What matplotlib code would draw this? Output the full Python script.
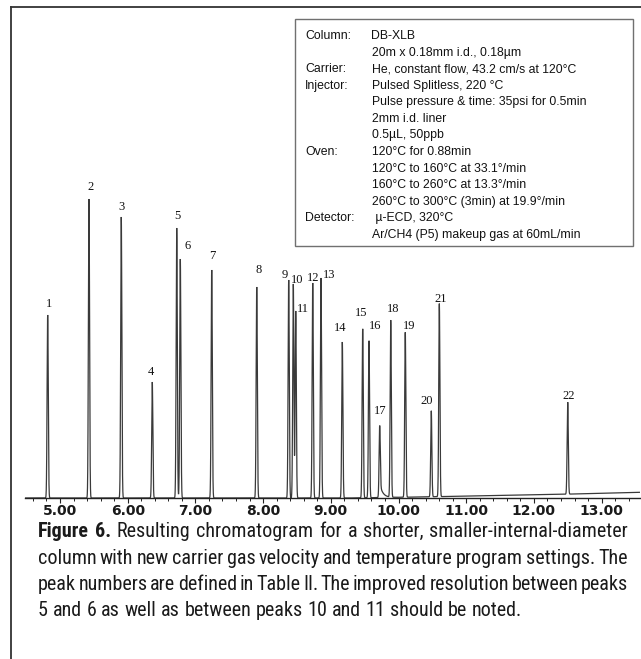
import numpy as np
import matplotlib
matplotlib.use("Agg")
import matplotlib.pyplot as plt
from matplotlib import font_manager as fm
from matplotlib.patches import Rectangle
from matplotlib.lines import Line2D
from matplotlib.ticker import MultipleLocator

# ---- chromatogram data -------------------------------------------------
peak_ids = ["1", "2", "3", "4", "5", "6", "7", "8", "9", "10", "11",
            "12", "13", "14", "15", "16", "17", "18", "19", "20", "21", "22"]
retention_times = [4.818, 5.428, 5.905, 6.363, 6.724, 6.777, 7.241, 7.906,
                   8.378, 8.446, 8.482, 8.733, 8.855, 9.170, 9.471, 9.564,
                   9.722, 9.885, 10.100, 10.484, 10.603, 12.499]
peak_heights = [183, 299, 281, 116, 270, 239, 228, 211, 218, 214, 187,
                215, 220, 156, 169, 157, 72, 177, 165, 86, 193, 92]

# slow baseline drift late in the run
drift_times = [4.48, 9.30, 10.30, 12.40, 13.57]
drift_levels = [0.0, 0.0, 1.0, 3.7, 5.7]

# tailing on peak 17
tail_peak = "17"
tail_height = 14.0
tail_decay = 0.045

tick_values = [5, 6, 7, 8, 9, 10, 11, 12, 13]
tick_labels = ["5.00", "6.00", "7.00", "8.00", "9.00", "10.00", "11.00",
               "12.00", "13.00"]

info_rows = [
    ("Column:", "DB-XLB"),
    ("", "20m x 0.18mm i.d., 0.18\u00b5m"),
    ("Carrier:", "He, constant flow, 43.2 cm/s at 120\u00b0C"),
    ("Injector:", "Pulsed Splitless, 220 \u00b0C"),
    ("", "Pulse pressure & time: 35psi for 0.5min"),
    ("", "2mm i.d. liner"),
    ("", "0.5\u00b5L, 50ppb"),
    ("Oven:", "120\u00b0C for 0.88min"),
    ("", "120\u00b0C to 160\u00b0C at 33.1\u00b0/min"),
    ("", "160\u00b0C to 260\u00b0C at 13.3\u00b0/min"),
    ("", "260\u00b0C to 300\u00b0C (3min) at 19.9\u00b0/min"),
    ("Detector:", " \u00b5-ECD, 320\u00b0C"),
    ("", "Ar/CH4 (P5) makeup gas at 60mL/min"),
]

caption_lines = [
    "Figure 6. Resulting chromatogram for a shorter, smaller-internal-diameter",
    "column with new carrier gas velocity and temperature program settings. The",
    "peak numbers are defined in Table II. The improved resolution between peaks",
    "5 and 6 as well as between peaks 10 and 11 should be noted.",
]

# label placement (pixels right / up from each peak apex)
label_offsets = [(1, 12), (2, 13), (0, 11), (-1, 11), (1, 13), (7, 14),
                 (1, 15), (2, 18), (-4, 6), (4, 5), (7, 3), (0, 6), (8, 4),
                 (-2, 15), (-2, 17), (6, 16), (1, 16), (2, 13), (4, 8),
                 (-5, 12), (1, 7), (1, 11)]

W, H = 641, 659
fig = plt.figure(figsize=(W / 100, H / 100), dpi=100)
fig.patch.set_facecolor("white")


def fx(px):
    return px / W


def fy(py):
    return 1 - py / H


# ---- signal ------------------------------------------------------------
t = np.linspace(4.483, 13.567, 30000)
sigma = 0.0085
signal = np.interp(t, drift_times, drift_levels)
for pid, rt, h in zip(peak_ids, retention_times, peak_heights):
    signal += h * np.exp(-0.5 * ((t - rt) / sigma) ** 2)
    if pid == tail_peak:
        after = np.clip(t - rt, 0, None)
        ramp = 1 - np.exp(-0.5 * ((t - rt) / sigma) ** 2)
        signal += np.where(t > rt, tail_height * np.exp(-after / tail_decay) * ramp, 0)

ax = fig.add_axes([fx(25), 161 / H, 615 / W, 478 / H])
ax.plot(t, signal, color="#3a3a3a", lw=0.9, solid_joinstyle="miter")
ax.set_xlim(4.483, 13.567)
ax.set_ylim(0, 478)
for s in ("left", "right", "top"):
    ax.spines[s].set_visible(False)
ax.spines["bottom"].set_color("#222222")
ax.spines["bottom"].set_linewidth(1.0)
ax.set_yticks([])
ax.set_xticks(tick_values)
ax.set_xticklabels(tick_labels, family="DejaVu Sans", fontsize=10,
                   weight="bold", color="#1a1a1a")
ax.xaxis.set_minor_locator(MultipleLocator(0.2))
ax.tick_params(axis="x", which="major", direction="out", length=3.6,
               width=0.8, pad=1.0, color="#222222")
ax.tick_params(axis="x", which="minor", direction="out", length=2.2,
               width=0.7, color="#222222")
ax.patch.set_alpha(0)

for pid, rt, h, (dx, dy) in zip(peak_ids, retention_times, peak_heights,
                                label_offsets):
    ax.annotate(pid, xy=(rt, h), xytext=(dx * 0.72, (dy - 4) * 0.72),
                textcoords="offset points", ha="center", va="baseline",
                family="Liberation Serif", fontsize=9, color="#111111")

# ---- panel frame -------------------------------------------------------
fig.add_artist(Line2D([fx(11), fx(11)], [0, fy(7)], transform=fig.transFigure,
                      color="#333333", lw=1.3))
fig.add_artist(Line2D([fx(11), 1], [fy(7), fy(7)], transform=fig.transFigure,
                      color="#333333", lw=1.3))

# ---- conditions box ----------------------------------------------------
fig.add_artist(Rectangle((fx(295), fy(246)), (633 - 295) / W, (246 - 19) / H,
                         transform=fig.transFigure, fill=False,
                         ec="#707070", lw=1.0))
for i, (lab, val) in enumerate(info_rows):
    yb = 39.3 + i * 16.53
    if lab:
        fig.text(fx(305), fy(yb), lab, family="Liberation Sans", fontsize=8.8,
                 va="baseline", ha="left", color="#111111")
    fig.text(fx(371.5), fy(yb), val, family="Liberation Sans", fontsize=8.8,
             va="baseline", ha="left", color="#111111")

# ---- caption -----------------------------------------------------------
names = {f.name for f in fm.fontManager.ttflist}
cond_dejavu = any(f.name == "DejaVu Sans" and f.stretch == "condensed"
                  for f in fm.fontManager.ttflist)
cap_kw = None
for cand in ("Roboto Condensed", "Liberation Sans Narrow", "Open Sans Condensed",
             "Noto Sans Condensed"):
    if cand in names:
        cap_kw = dict(family=cand)
        break
if cap_kw is None and cond_dejavu:
    cap_kw = dict(family="DejaVu Sans", stretch="condensed")
if cap_kw is None:
    cap_kw = dict(family="Liberation Sans")

renderer = fig.canvas.get_renderer()
x_left, x_right = 38, 628
baselines = [537, 563.5, 590, 616.5]


def word_items(line, n_bold):
    words = line.split(" ")
    return [(w, i < n_bold) for i, w in enumerate(words)]


def measure(items, size):
    widths = []
    for w, bold in items:
        tt = fig.text(0, 0, w, fontsize=size,
                      weight="bold" if bold else "normal", **cap_kw)
        widths.append(tt.get_window_extent(renderer).width)
        tt.remove()
    sp = fig.text(0, 0, "a a", fontsize=size, **cap_kw)
    aa = fig.text(0, 0, "aa", fontsize=size, **cap_kw)
    space = sp.get_window_extent(renderer).width - aa.get_window_extent(renderer).width
    sp.remove()
    aa.remove()
    return widths, space


# choose the size at which the widest justified line fits with tight spacing
cap_size = 15.0
all_items = [word_items(l, 2 if i == 0 else 0) for i, l in enumerate(caption_lines)]
for _ in range(4):
    worst = 0
    for items in all_items[:3]:
        widths, space = measure(items, cap_size)
        worst = max(worst, sum(widths) + 0.6 * space * (len(items) - 1))
    cap_size *= (x_right - x_left) / worst

for li, items in enumerate(all_items):
    widths, space = measure(items, cap_size)
    if li < 3:
        gap = ((x_right - x_left) - sum(widths)) / (len(items) - 1)
    else:
        gap = space
    x = x_left
    for (w, bold), wd in zip(items, widths):
        fig.text(fx(x), fy(baselines[li]), w, fontsize=cap_size,
                 weight="bold" if bold else "normal", va="baseline",
                 ha="left", color="#1a1a1a", **cap_kw)
        x += wd + gap

fig.savefig("out.png", dpi=100, facecolor="white")
